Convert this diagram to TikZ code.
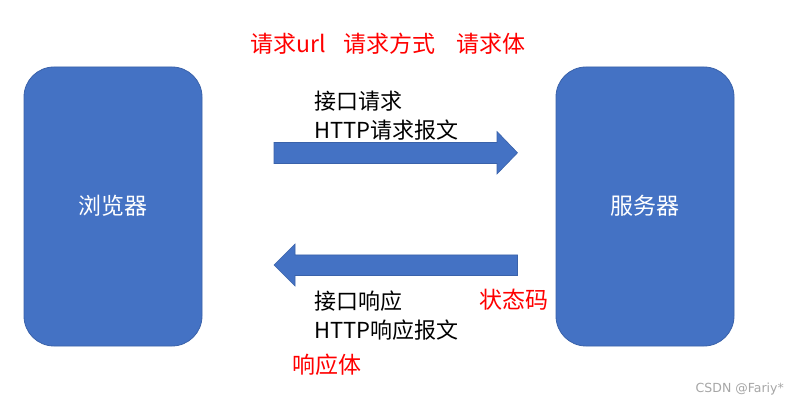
\documentclass[tikz,border=0pt]{standalone}
\usepackage{fontspec}
\setmainfont{Noto Sans CJK SC}
\newfontfamily\wmfont{DejaVu Sans}
\begin{document}
\begin{tikzpicture}[x=1pt,y=-1pt,
  blk/.style={draw=blueborder,fill=bluefill,line width=0.8pt,rounded corners=30pt},
  blkarrow/.style={draw=blueborder,fill=bluefill,line width=0.6pt},
  lbl/.style={inner sep=0pt,anchor=west,font=\fontsize{22}{26}\selectfont},
  redlbl/.style={lbl,text=red,font=\fontsize{23}{27}\selectfont},
  boxlbl/.style={inner sep=0pt,text=white,font=\fontsize{23}{27}\selectfont}]
\definecolor{bluefill}{HTML}{4472C4}
\definecolor{blueborder}{HTML}{3A62AA}
\useasboundingbox (0,0) rectangle (790,406);
\fill[white] (0,0) rectangle (790,406);
% boxes
\draw[blk] (24,67) rectangle (202,346);
\draw[blk] (556,67) rectangle (734,346);
\node[boxlbl] (browser) at (113,206) {浏览器};
\node[boxlbl] (server) at (645,206) {服务器};
% right arrow
\draw[blkarrow] (274,142.5) -- (497,142.5) -- (497,131.5) -- (517.5,152.8) -- (497,174) -- (497,163.5) -- (274,163.5) -- cycle;
% left arrow
\draw[blkarrow] (517.5,255) -- (295,255) -- (295,244) -- (274,265) -- (295,286) -- (295,275.5) -- (517.5,275.5) -- cycle;
% labels
\node[redlbl] (url) at (250,44) {请求url};
\node[redlbl] (method) at (343,44) {请求方式};
\node[redlbl] (body) at (456,44) {请求体};
\node[lbl] (req1) at (314,101) {接口请求};
\node[lbl] (req2) at (314,130) {HTTP请求报文};
\node[lbl] (resp1) at (314,301) {接口响应};
\node[lbl] (resp2) at (314,330) {HTTP响应报文};
\node[redlbl] (status) at (479,300) {状态码};
\node[redlbl] (rbody) at (292,365) {响应体};
\node[inner sep=0pt,anchor=east,text=black!35,font=\wmfont\fontsize{12.5}{14}\selectfont] (wm) at (784,389) {CSDN @Fariy*};
\end{tikzpicture}
\end{document}
